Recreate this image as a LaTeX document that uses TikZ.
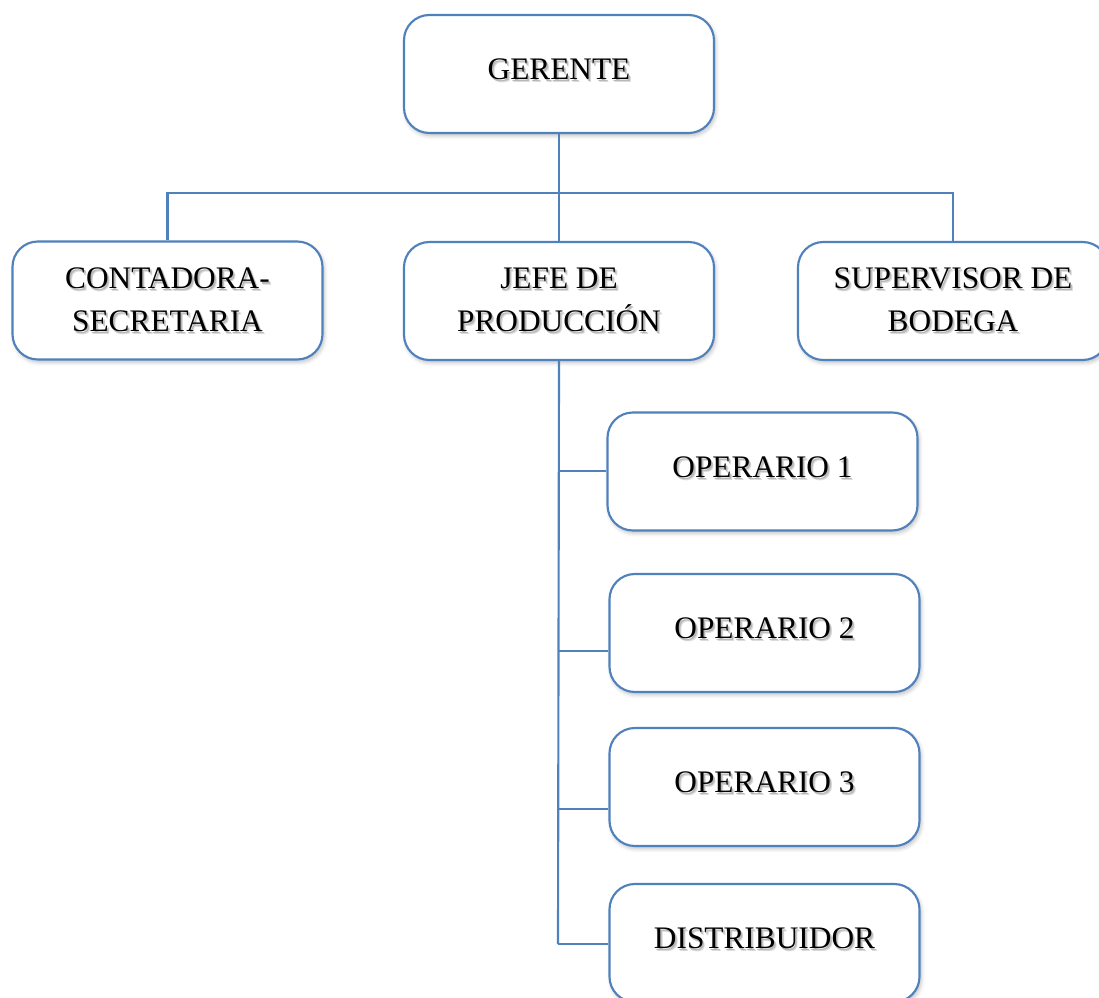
\documentclass[tikz,border=0pt]{standalone}
\usepackage{fontspec}
\setmainfont{Liberation Serif}
\usetikzlibrary{shadows.blur}
\definecolor{orgblue}{HTML}{4F81BD}

% text with a soft grey drop shadow
\newcommand\shd[1]{\leavevmode
  \rlap{\smash{\hspace{1.8pt}\raisebox{-2.2pt}{\textcolor{black!14}{#1}}}}%
  \rlap{\smash{\hspace{1.1pt}\raisebox{-1.4pt}{\textcolor{black!28}{#1}}}}%
  #1}

\tikzset{
  box/.style={draw=orgblue, line width=1.6pt, rounded corners=19pt, fill=white,
    minimum width=232.5pt, minimum height=88.5pt, inner sep=0pt,
    blur shadow={shadow xshift=1.2pt, shadow yshift=-2pt, shadow blur steps=6,
      shadow opacity=25, shadow blur radius=3pt}},
  lbl/.style={align=center, inner sep=0pt, font=\fontsize{23.5}{32}\selectfont},
  conn/.style={draw=orgblue, line width=1.6pt},
}

\begin{document}
\begin{tikzpicture}[x=0.75pt, y=-0.75pt]
\useasboundingbox (0,0) rectangle (1099,998);

% top level
\node[box] (gerente) at (559,74) {};
\node[lbl] (gerente-t) at (559,69) {\shd{GERENTE}};

% second level
\node[box] (conta) at (167.5,300.5) {};
\node[lbl] (conta-t) at (167.5,300) {\shd{CONTADORA-}\\\shd{SECRETARIA}};
\node[box] (jefe) at (559,301) {};
\node[lbl] (jefe-t) at (559,300) {\shd{JEFE DE}\\\shd{PRODUCCIÓN}};
\node[box] (super) at (953,301) {};
\node[lbl] (super-t) at (953,300) {\shd{SUPERVISOR DE}\\\shd{BODEGA}};

% production staff
\node[box] (op1) at (762.5,471.5) {};
\node[lbl] (op1-t) at (762.5,467) {\shd{OPERARIO 1}};
\node[box] (op2) at (764.5,633) {};
\node[lbl] (op2-t) at (764.5,628) {\shd{OPERARIO 2}};
\node[box] (op3) at (764.5,787) {};
\node[lbl] (op3-t) at (764.5,782) {\shd{OPERARIO 3}};
\node[box] (dist) at (764.5,943) {};
\node[lbl] (dist-t) at (764.5,938) {\shd{DISTRIBUIDOR}};

% connectors from the manager
\coordinate (bus) at (558,193);
\draw[conn] (gerente.south) -- (jefe.north);
\draw[conn] (conta.north) -- (conta.north |- bus) -| (super.north);

% connectors from the production chief
\coordinate (b1) at (558,471);
\coordinate (b2) at (558,651);
\coordinate (b3) at (558,809);
\coordinate (b4) at (558,944);
\draw[conn] (jefe.south) -- (b4);
\draw[conn] (b1) -- (b1 -| op1.west);
\draw[conn] (b2) -- (b2 -| op2.west);
\draw[conn] (b3) -- (b3 -| op3.west);
\draw[conn] (b4) -- (b4 -| dist.west);
\end{tikzpicture}
\end{document}
